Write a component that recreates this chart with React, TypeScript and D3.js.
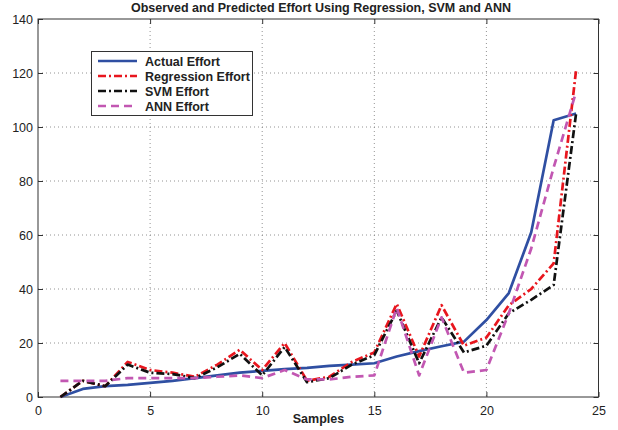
import { useEffect, useRef } from 'react'
import * as d3 from 'd3'

const samples = d3.range(1, 25)
const actualEffort = [0, 3, 4, 4.5, 5.2, 6, 7, 8, 9, 9.7, 10.3, 10.8, 11.5, 12, 12.5, 15, 17, 18.8, 20.5, 28.5, 38.5, 61, 102.5, 105]
const regressionEffort = [0, 6, 4, 13, 10, 9, 7.5, 12, 17.5, 10, 20, 6, 7.5, 13, 16.5, 34.5, 15, 34, 19, 22, 34, 40, 49.5, 121]
const svmEffort = [0, 6, 4, 12, 9, 8.5, 7, 11, 16, 8, 18.5, 5.5, 7, 12, 15.5, 32, 12.5, 29.5, 16.5, 19, 31, 36, 41.5, 105]
const annEffort = [6, 6, 6, 7, 7, 7, 7, 7.5, 8, 7, 10, 6.5, 6.5, 7.5, 8, 33, 8, 29.5, 9, 10, 31, 55, 85, 113]

const xTicks = [0, 5, 10, 15, 20, 25]
const yTicks = [0, 20, 40, 60, 80, 100, 120, 140]

const seriesList = [
  { name: 'Actual Effort', values: actualEffort, color: '#2f4fa2', dash: null },
  { name: 'Regression Effort', values: regressionEffort, color: '#e8161e', dash: '8,3,2,3' },
  { name: 'SVM Effort', values: svmEffort, color: '#111111', dash: '8,3,2,3' },
  { name: 'ANN Effort', values: annEffort, color: '#c257b2', dash: '8,5' },
]

export default function App() {
  const ref = useRef<SVGSVGElement>(null)
  const width = 618
  const height = 430

  useEffect(() => {
    const el = ref.current
    if (!el) return
    const svg = d3.select(el)
    svg.selectAll('*').remove()

    const margin = { top: 19, right: 19.5, bottom: 33, left: 38 }
    const w = width - margin.left - margin.right
    const h = height - margin.top - margin.bottom
    const font = '"Liberation Sans", Arial, sans-serif'

    svg.append('rect').attr('width', width).attr('height', height).attr('fill', '#fff')

    const g = svg.append('g').attr('transform', `translate(${margin.left},${margin.top})`)

    const x = d3.scaleLinear().domain([0, 25]).range([0, w])
    const y = d3.scaleLinear().domain([0, 140]).range([h, 0])

    // dotted grid
    g.append('g')
      .selectAll('line')
      .data(xTicks.slice(1, -1))
      .join('line')
      .attr('x1', (d) => x(d))
      .attr('x2', (d) => x(d))
      .attr('y1', 0)
      .attr('y2', h)
      .attr('stroke', '#777')
      .attr('stroke-width', 0.8)
      .attr('stroke-dasharray', '1,3')
    g.append('g')
      .selectAll('line')
      .data(yTicks.slice(1, -1))
      .join('line')
      .attr('x1', 0)
      .attr('x2', w)
      .attr('y1', (d) => y(d))
      .attr('y2', (d) => y(d))
      .attr('stroke', '#777')
      .attr('stroke-width', 0.8)
      .attr('stroke-dasharray', '1,3')

    // axes, matlab style (ticks inside, box all round)
    const styleAxis = (sel: any) => {
      sel.select('.domain').remove()
      sel.selectAll('.tick line').attr('stroke', '#333')
      sel.selectAll('text').attr('fill', '#222').attr('font-size', 12.5).attr('font-family', font)
    }
    g.append('g')
      .attr('transform', `translate(0,${h})`)
      .call(d3.axisBottom(x).tickValues(xTicks).tickSizeInner(-5).tickSizeOuter(0).tickPadding(9))
      .call(styleAxis)
    g.append('g')
      .call(d3.axisTop(x).tickValues(xTicks).tickSizeInner(-5).tickSizeOuter(0).tickFormat(() => ''))
      .call(styleAxis)
    g.append('g')
      .call(d3.axisLeft(y).tickValues(yTicks).tickSizeInner(-5).tickSizeOuter(0).tickPadding(5))
      .call(styleAxis)
    g.append('g')
      .attr('transform', `translate(${w},0)`)
      .call(d3.axisRight(y).tickValues(yTicks).tickSizeInner(-5).tickSizeOuter(0).tickFormat(() => ''))
      .call(styleAxis)

    g.append('rect')
      .attr('width', w)
      .attr('height', h)
      .attr('fill', 'none')
      .attr('stroke', '#333')
      .attr('stroke-width', 1)

    // series
    const line = d3
      .line<number>()
      .x((_, i) => x(samples[i]))
      .y((d) => y(d))

    seriesList.forEach((s) => {
      g.append('path')
        .datum(s.values)
        .attr('d', line)
        .attr('fill', 'none')
        .attr('stroke', s.color)
        .attr('stroke-width', 2.7)
        .attr('stroke-dasharray', s.dash)
        .attr('stroke-linejoin', 'round')
    })

    // legend
    const lg = svg.append('g').attr('transform', 'translate(91.5,51.5)')
    lg.append('rect')
      .attr('width', 161)
      .attr('height', 64)
      .attr('fill', '#fff')
      .attr('stroke', '#333')
      .attr('stroke-width', 1)
    seriesList.forEach((s, i) => {
      const yy = 9.5 + i * 15
      lg.append('line')
        .attr('x1', 6.5)
        .attr('x2', 45.5)
        .attr('y1', yy)
        .attr('y2', yy)
        .attr('stroke', s.color)
        .attr('stroke-width', 2.6)
        .attr('stroke-dasharray', s.dash)
      lg.append('text')
        .attr('x', 53.5)
        .attr('y', yy + 4.5)
        .attr('font-family', font)
        .attr('font-weight', 'bold')
        .attr('font-size', 12.5)
        .attr('fill', '#222')
        .text(s.name)
    })

    svg
      .append('text')
      .attr('x', 321)
      .attr('y', 11.5)
      .attr('text-anchor', 'middle')
      .attr('font-family', font)
      .attr('font-weight', 'bold')
      .attr('font-size', 12.5)
      .attr('fill', '#222')
      .text('Observed and Predicted Effort Using Regression, SVM and ANN')

    svg
      .append('text')
      .attr('x', 318.5)
      .attr('y', 423)
      .attr('text-anchor', 'middle')
      .attr('font-family', font)
      .attr('font-weight', 'bold')
      .attr('font-size', 12.5)
      .attr('fill', '#222')
      .text('Samples')
  }, [])

  return (
    <svg
      ref={ref}
      width={width}
      height={height}
      style={{ position: 'absolute', left: 0, top: 0, display: 'block' }}
    />
  )
}
